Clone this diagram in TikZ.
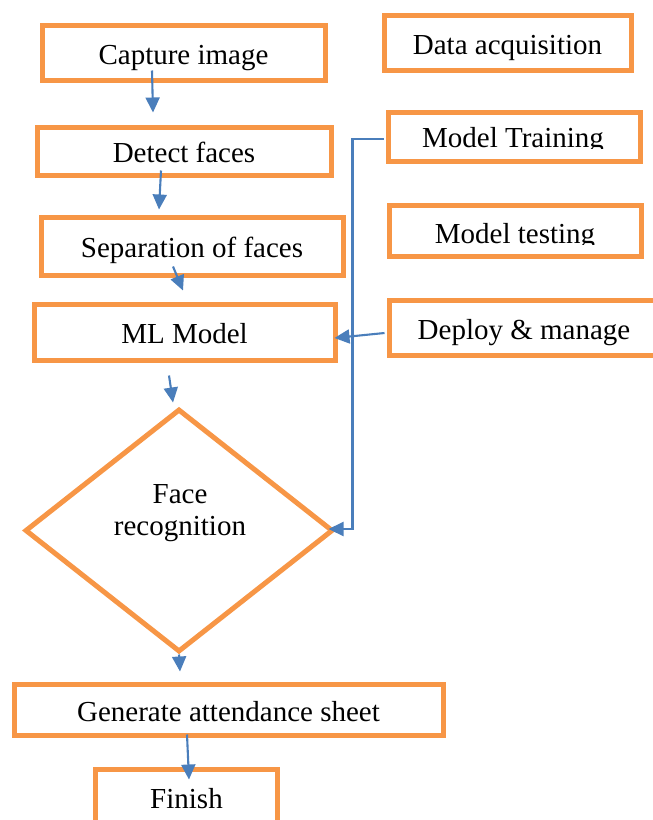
\documentclass[tikz,border=0pt]{standalone}
\usepackage{fontspec}
\setmainfont{Liberation Serif}
\usetikzlibrary{arrows.meta,shapes.geometric}
\definecolor{boxorange}{HTML}{F79646}
\definecolor{linkblue}{HTML}{4A7EBB}
\begin{document}
\begin{tikzpicture}[x=1pt,y=-1pt,
  txt/.style={font=\fontsize{29}{32}\selectfont, inner sep=0pt},
  box/.style={txt, draw=boxorange, line width=5pt, rectangle, text height=23pt, text depth=0pt},
  link/.style={draw=linkblue, line width=2.1pt},
  arr/.style={link, -{Triangle[length=15pt,width=14pt]}}]
\useasboundingbox (0,0) rectangle (653,820);
\clip (0,0) rectangle (653,820);

% left column
\node[box, minimum width=283pt, minimum height=55pt] (cap) at (183.5,52.5) {Capture image};
\node[box, minimum width=294pt, minimum height=48pt] (det) at (184,151) {Detect faces};
\node[box, minimum width=302pt, minimum height=58pt] (sep) at (192,246) {Separation of faces};
\node[box, minimum width=301pt, minimum height=56pt] (ml) at (184.5,332) {ML Model};
\node[draw=boxorange, line width=5pt, diamond, minimum width=308pt, minimum height=243pt, inner sep=0pt] (rec) at (179,530.5) {};
\node[txt, anchor=base] (reca) at (180,503) {Face};
\node[txt, anchor=base] (recb) at (180,535) {recognition};
\node[box, minimum width=429pt, minimum height=51pt] (gen) at (228.5,709.5) {Generate attendance sheet};
\node[box, minimum width=182pt, minimum height=55pt] (fin) at (186.5,796.5) {Finish};

% right column
\node[box, minimum width=247pt, minimum height=55pt] (data) at (507.5,42.5) {Data acquisition};
\node[box, minimum width=252pt, minimum height=49pt] (train) at (514,136.5) {};
\begin{scope}
  \clip (388,112) rectangle (640,148.5);
  \node[txt, anchor=base] (traintext) at (513,147) {Model Training};
\end{scope}
\node[box, minimum width=252pt, minimum height=51pt] (test) at (515,230.5) {};
\begin{scope}
  \clip (389,205) rectangle (641,244.5);
  \node[txt, anchor=base] (testtext) at (515,243) {Model testing};
\end{scope}
\node[box, minimum width=270pt, minimum height=55pt] (dep) at (524,327.5) {Deploy \& manage};

% connectors
\draw[arr] ([shift={(-31.5,-12)}]cap.south) -- ([shift={(-31,-12)}]det.north);
\draw[arr] ([shift={(-23,-7)}]det.south) -- ([shift={(-33,-5)}]sep.north);
\draw[arr] ([shift={(-19,-11)}]sep.south) -- ([shift={(-1.5,-11)}]ml.north);
\draw[arr] ([shift={(-15.5,13)}]ml.south) -- ([shift={(-6,-4)}]rec.north);
\draw[arr] (rec.south) -- ([shift={(-48.5,-10)}]gen.north);
\draw[arr] ([shift={(-41.5,-3)}]gen.south) -- ([shift={(2.5,13)}]fin.north);
\draw[arr] ([shift={(-2,2.5)}]train.west) -- ++(-31,0) |- ([shift={(-7,-1.5)}]rec.east);
\draw[arr] ([shift={(-2,5.5)}]dep.west) -- ([shift={(-3,6)}]ml.east);
\end{tikzpicture}
\end{document}
